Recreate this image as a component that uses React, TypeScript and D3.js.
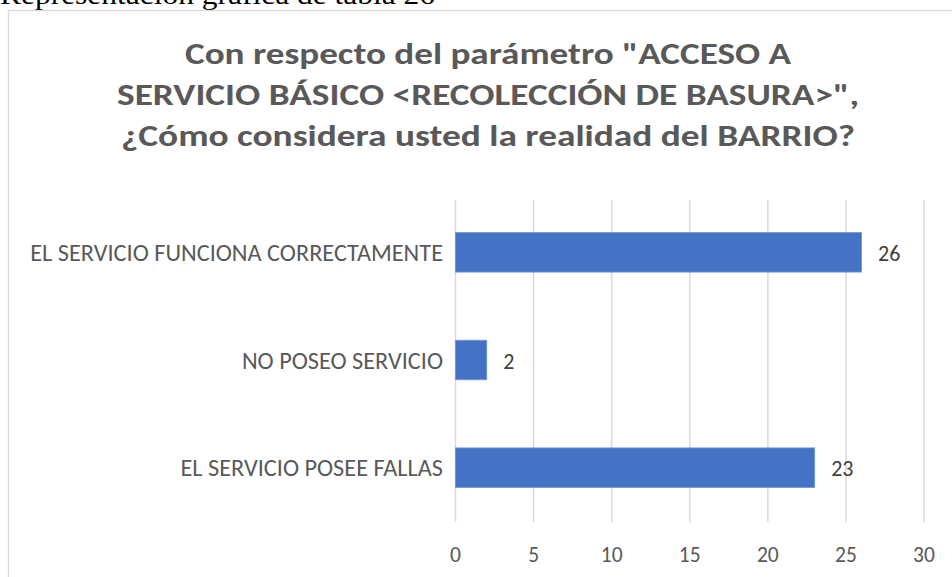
import React from "react";
import * as d3 from "d3";

const categories: string[] = [
  "EL SERVICIO FUNCIONA CORRECTAMENTE",
  "NO POSEO SERVICIO",
  "EL SERVICIO POSEE FALLAS",
];
const values: number[] = [26, 2, 23];
const xTicks: number[] = [0, 5, 10, 15, 20, 25, 30];
const titleLines: string[] = [
  'Con respecto del parámetro "ACCESO A',
  'SERVICIO BÁSICO <RECOLECCIÓN DE BASURA>",',
  "¿Cómo considera usted la realidad del BARRIO?",
];
const caption = "Representación gráfica de tabla 26";

const W = 952;
const H = 577;
const FONT = "Calibri, Carlito, Lato, 'Open Sans', 'Noto Sans', sans-serif";

export default function App() {
  const x = d3.scaleLinear().domain([0, 30]).range([455.5, 924]);
  const y = d3
    .scaleBand<string>()
    .domain(categories)
    .range([198.5, 521.5])
    .paddingInner(0.633)
    .paddingOuter(0.3165);

  const titleWidths = [606, 742, 734];
  const titleBase = [63.5, 104.5, 145.5];

  return (
    <svg
      width={W}
      height={H}
      style={{ position: "absolute", left: 0, top: 0, background: "#fff" }}
    >
      <rect x={0} y={0} width={W} height={H} fill="#fff" />
      <text
        x={0}
        y={4}
        fontFamily="'Liberation Serif', 'Times New Roman', serif"
        fontSize={27.5}
        fill="#000"
        textLength={435}
        lengthAdjust="spacingAndGlyphs"
      >
        {caption}
      </text>
      <rect
        x={8.5}
        y={10.5}
        width={W + 20}
        height={H + 20}
        fill="none"
        stroke="#d9d9d9"
        strokeWidth={1.3}
      />
      {titleLines.map((t, i) => (
        <text
          key={i}
          x={488}
          y={titleBase[i]}
          textAnchor="middle"
          fontFamily={FONT}
          fontWeight="bold"
          fontSize={31}
          fill="#595959"
          textLength={titleWidths[i]}
          lengthAdjust="spacingAndGlyphs"
        >
          {t}
        </text>
      ))}
      {xTicks.map((t) => (
        <g key={t}>
          <line
            x1={x(t)}
            x2={x(t)}
            y1={200}
            y2={522}
            stroke="#d9d9d9"
            strokeWidth={1.5}
          />
          <text
            x={x(t)}
            y={562}
            textAnchor="middle"
            fontFamily={FONT}
            fontSize={21.5}
            fill="#595959"
          >
            {t}
          </text>
        </g>
      ))}
      {categories.map((c, i) => {
        const yy = y(c) as number;
        const bw = y.bandwidth();
        return (
          <g key={c}>
            <rect
              x={x(0)}
              y={yy}
              width={x(values[i]) - x(0)}
              height={bw}
              fill="#4472c4"
              stroke="#6f95d6"
              strokeWidth={0.8}
            />
            <text
              x={443}
              y={yy + bw / 2 + 8.5}
              textAnchor="end"
              fontFamily={FONT}
              fontSize={24.3}
              fill="#595959"
            >
              {c}
            </text>
            <text
              x={x(values[i]) + 16.5}
              y={yy + bw / 2 + 8.5}
              fontFamily={FONT}
              fontSize={22}
              fill="#404040"
            >
              {values[i]}
            </text>
          </g>
        );
      })}
    </svg>
  );
}
